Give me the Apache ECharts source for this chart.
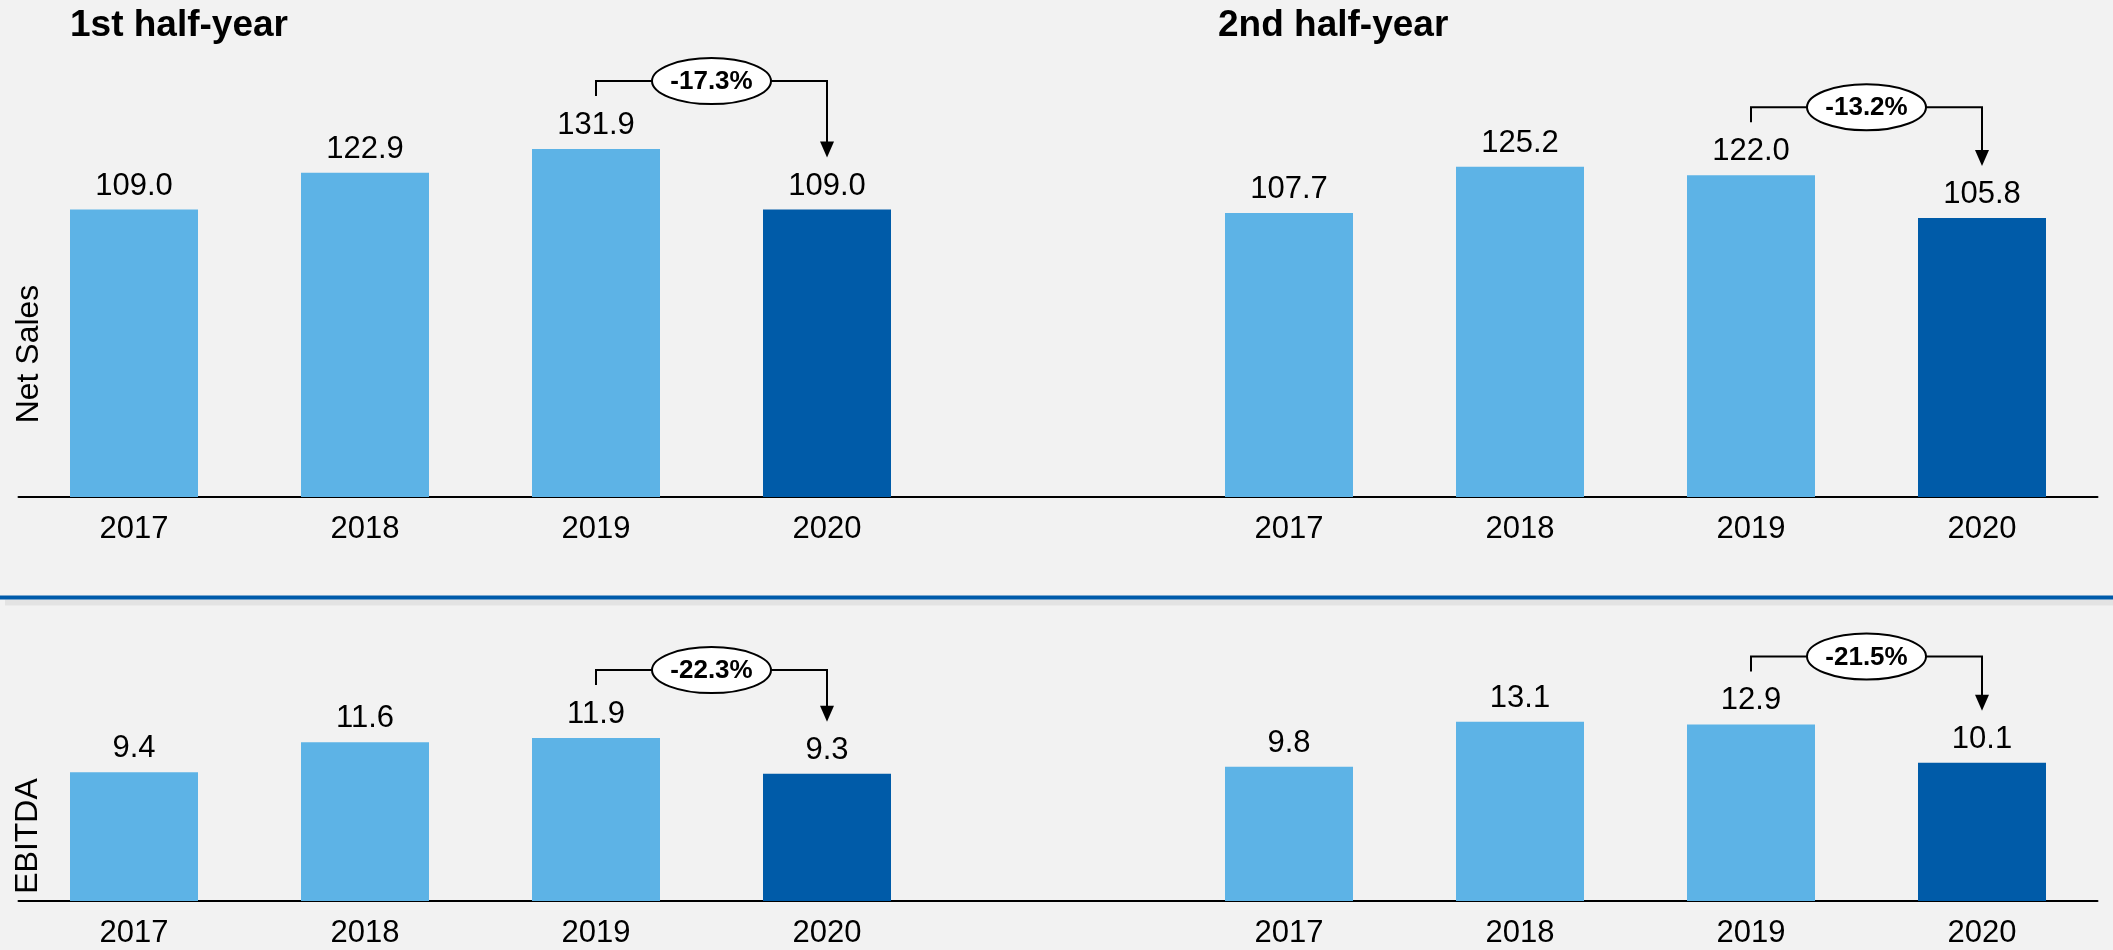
<!DOCTYPE html>
<html>
<head>
<meta charset="utf-8">
<title>Net Sales and EBITDA by half-year</title>
<script src="https://cdn.jsdelivr.net/npm/echarts@6/dist/echarts.min.js"></script>
<style>
  html, body { margin: 0; padding: 0; background: #F2F2F2; }
  #chart { width: 2113px; height: 950px; }
</style>
</head>
<body>
<div id="chart"></div>
<script>
// Data
const years = ['2017', '2018', '2019', '2020'];
const halfTitles = ['1st half-year', '2nd half-year'];
const rowNames = ['Net Sales', 'EBITDA'];

const salesH1 = [109.0, 122.9, 131.9, 109.0];
const salesH2 = [107.7, 125.2, 122.0, 105.8];
const ebitdaH1 = [9.4, 11.6, 11.9, 9.3];
const ebitdaH2 = [9.8, 13.1, 12.9, 10.1];

// change 2019 -> 2020, as printed in the bubbles
const salesChange = ['-17.3%', '-13.2%'];
const ebitdaChange = ['-22.3%', '-21.5%'];

const highlightYear = '2020';
const compareYear = '2019';

const FONT = '"Liberation Sans", Arial, Helvetica, sans-serif';
const LIGHT = '#5DB3E6';
const DARK = '#005BA8';

// one axis per row: first half, an empty slot, second half
const categories = [...years, '', ...years];
const offsetH2 = years.length + 1;

/**
 * Build the bar data for one row, dark colour for the highlighted year
 */
function barData(h1, h2) {
    return [...h1, null, ...h2].map((v, i) => {
        if (v === null) return '-';
        return {
            value: v,
            itemStyle: { color: categories[i] === highlightYear ? DARK : LIGHT }
        };
    });
}

/**
 * Data for the change brackets: [fromIndex, toIndex, fromValue, toValue]
 */
function bracketData(h1, h2) {
    const a = years.indexOf(compareYear);
    const b = years.indexOf(highlightYear);
    return [
        [a, b, h1[a], h1[b]],
        [a + offsetH2, b + offsetH2, h2[a], h2[b]]
    ];
}

/**
 * Bracket with bubble and arrow, placed from the bar tops
 */
function bracketRenderer(labels) {
    return function (params, api) {
        const from = api.coord([api.value(0), api.value(2)]);
        const to = api.coord([api.value(1), api.value(3)]);
        const yLine = from[1] - 68;
        const footY = from[1] - 53;
        const tipY = to[1] - 52;
        const cx = (from[0] + to[0]) / 2;
        const rx = 59.5;
        const ry = 23;
        const headH = 16;
        const headW = 7;
        const line = { stroke: '#000', lineWidth: 2, fill: 'none' };

        return {
            type: 'group',
            children: [
                {
                    type: 'polyline',
                    shape: { points: [[from[0], footY], [from[0], yLine], [cx - rx, yLine]] },
                    style: line
                },
                {
                    type: 'polyline',
                    shape: { points: [[cx + rx, yLine], [to[0], yLine], [to[0], tipY - headH + 1]] },
                    style: line
                },
                {
                    type: 'polygon',
                    shape: { points: [[to[0] - headW, tipY - headH], [to[0] + headW, tipY - headH], [to[0], tipY]] },
                    style: { fill: '#000', stroke: 'none' }
                },
                {
                    type: 'ellipse',
                    shape: { cx: cx, cy: yLine, rx: rx, ry: ry },
                    style: { fill: '#FFFFFF', stroke: '#000', lineWidth: 2 }
                },
                {
                    type: 'text',
                    style: {
                        text: labels[params.dataIndex],
                        x: cx,
                        y: yLine + 1,
                        align: 'center',
                        verticalAlign: 'middle',
                        font: 'bold 26px ' + FONT,
                        fill: '#000'
                    }
                }
            ]
        };
    };
}

function barSeries(gridIndex, h1, h2) {
    return {
        type: 'bar',
        xAxisIndex: gridIndex,
        yAxisIndex: gridIndex,
        data: barData(h1, h2),
        barWidth: 128,
        label: {
            show: true,
            position: 'top',
            distance: 8,
            color: '#000',
            fontSize: 31,
            fontFamily: FONT,
            formatter: (p) => p.value.toFixed(1)
        }
    };
}

function bracketSeries(gridIndex, h1, h2, labels) {
    return {
        type: 'custom',
        xAxisIndex: gridIndex,
        yAxisIndex: gridIndex,
        data: bracketData(h1, h2),
        encode: { x: [0, 1], y: [2, 3] },
        renderItem: bracketRenderer(labels),
        z: 10,
        silent: true
    };
}

const chart = echarts.init(document.getElementById('chart'), null, { renderer: 'canvas' });

const option = {
    backgroundColor: '#F2F2F2',
    animation: false,
    grid: [
        { left: 18.5, right: 15.5, top: 75, bottom: 453 },
        { left: 18.5, right: 15.5, top: 682, bottom: 49 }
    ],
    xAxis: [0, 1].map((i) => ({
        type: 'category',
        gridIndex: i,
        data: categories,
        axisTick: { show: false },
        axisLine: { lineStyle: { color: '#000', width: 2 } },
        axisLabel: { color: '#000', fontSize: 31, fontFamily: FONT, margin: 17, interval: 0 }
    })),
    yAxis: [
        { type: 'value', gridIndex: 0, min: 0, max: 160, show: false },
        { type: 'value', gridIndex: 1, min: 0, max: 16, show: false }
    ],
    graphic: [
        {
            type: 'text', left: 70, top: 7,
            style: { text: halfTitles[0], font: 'bold 37px ' + FONT, fill: '#000' }
        },
        {
            type: 'text', left: 1218, top: 7,
            style: { text: halfTitles[1], font: 'bold 37px ' + FONT, fill: '#000' }
        },
        {
            type: 'text', x: 29, y: 354, rotation: Math.PI / 2,
            style: { text: rowNames[0], font: '32px ' + FONT, fill: '#000', align: 'center', verticalAlign: 'middle' }
        },
        {
            type: 'text', x: 28, y: 836, rotation: Math.PI / 2,
            style: { text: rowNames[1], font: '32px ' + FONT, fill: '#000', align: 'center', verticalAlign: 'middle' }
        },
        // separator between the two rows
        {
            type: 'rect', left: 5, top: 599.5,
            shape: { width: 2108, height: 6 },
            style: { fill: '#E3E3E3' }
        },
        {
            type: 'rect', left: 0, top: 595.5,
            shape: { width: 2113, height: 4 },
            style: { fill: '#005BAA' }
        }
    ],
    series: [
        barSeries(0, salesH1, salesH2),
        barSeries(1, ebitdaH1, ebitdaH2),
        bracketSeries(0, salesH1, salesH2, salesChange),
        bracketSeries(1, ebitdaH1, ebitdaH2, ebitdaChange)
    ]
};

chart.setOption(option);
</script>
</body>
</html>
